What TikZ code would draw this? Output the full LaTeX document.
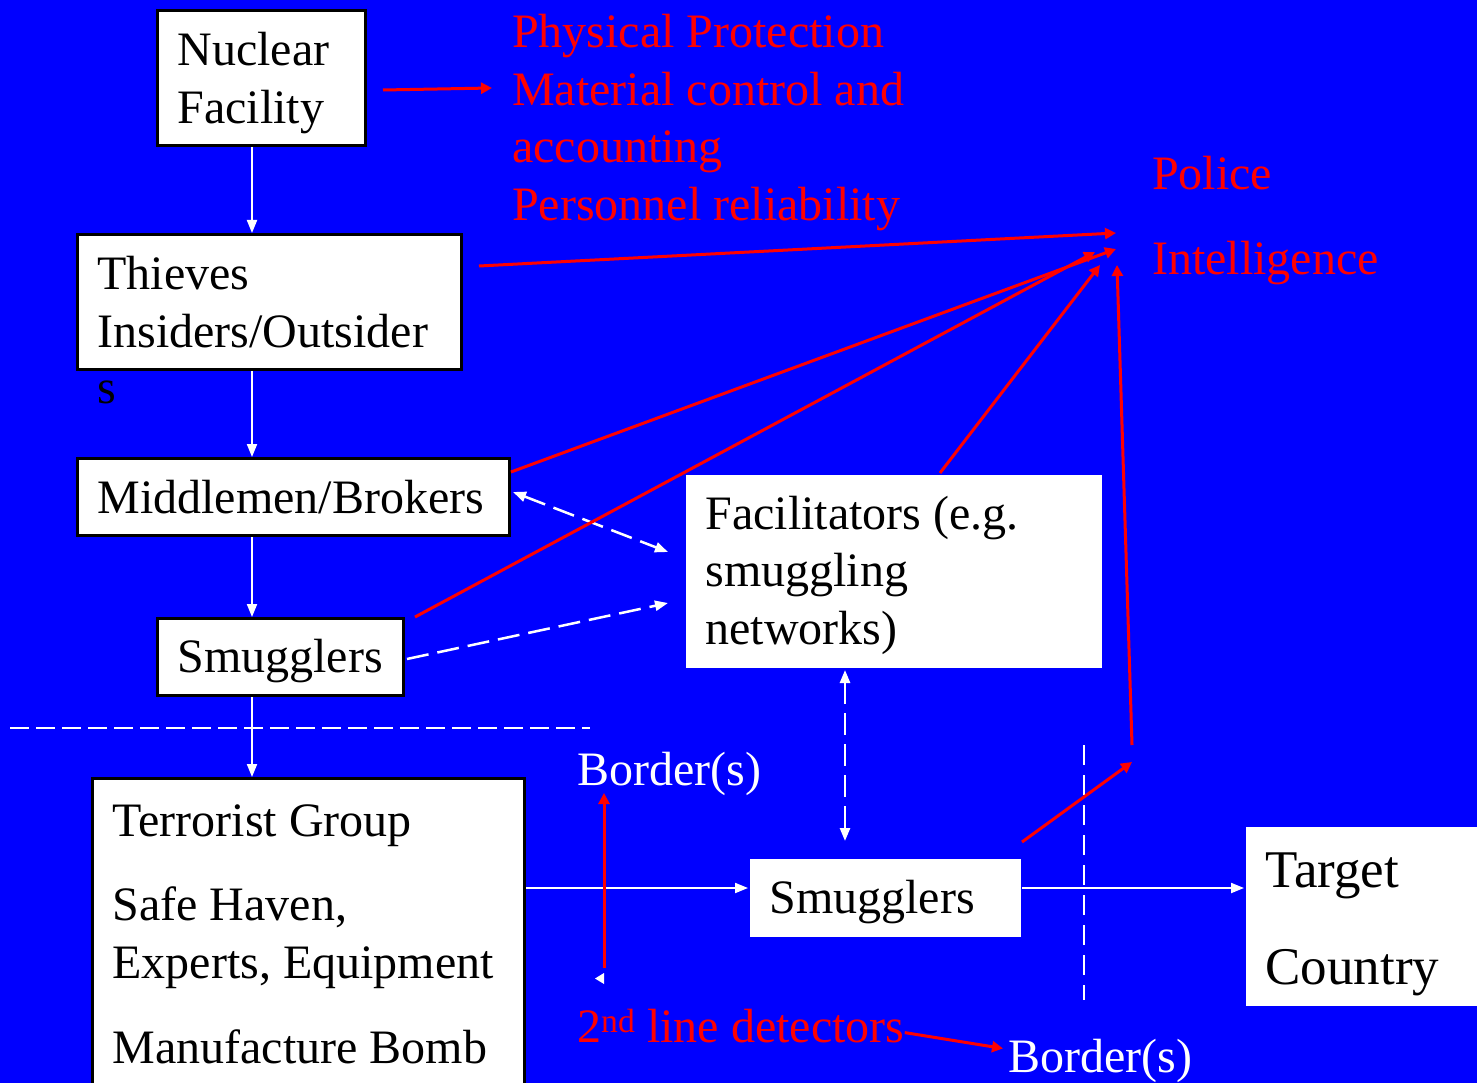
\documentclass[tikz,border=0pt]{standalone}
\usepackage{fontspec}
\setmainfont{Liberation Serif}
\usetikzlibrary{arrows.meta,calc}

\begin{document}
\begin{tikzpicture}[x=1pt,y=-1pt,
  every node/.style={font=\fontsize{48}{57.6}\selectfont},
  wtip/.tip={Triangle[length=13pt,width=10pt]},
  rtip/.tip={Triangle[length=11pt,width=11pt]},
  box/.style={draw=black,line width=3pt,fill=white,anchor=north west,inner xsep=20pt,inner ysep=0pt,align=flush left},
  plainbox/.style={box,draw=none},
  drop/.style={execute at begin node={\rule{0pt}{#1}}},
  lbl/.style={inner sep=0pt,anchor=base west},
  wline/.style={white,line width=2pt,-wtip},
  wdash/.style={white,line width=2.5pt,dash pattern=on 22pt off 9pt},
  rline/.style={red,line width=3pt,-rtip}]
\useasboundingbox (0,0) rectangle (1477,1083);
\fill[blue] (0,0) rectangle (1477,1083);

% boxes
\node[box,drop=43pt,text width=168pt,minimum height=135pt] (nf) at (156,9) {Nuclear\\Facility};
\node[box,text width=344pt,minimum height=135pt] (th) at (76,233) {Thieves\\Insiders/Outsider};
\node[lbl] (ths) at (97,403) {s};
\node[box,text width=392pt,minimum height=77pt] (mb) at (76,457) {Middlemen/Brokers};
\node[box,drop=41pt,text width=206pt,minimum height=77pt] (sm) at (156,617) {Smugglers};
\node[box,text width=392pt,minimum height=311pt] (tg) at (91,777) {Terrorist Group\\[27pt]Safe Haven,\\Experts, Equipment\\[27pt]Manufacture Bomb};
\node[plainbox,drop=42pt,text width=376pt,minimum height=193pt] (fac) at (684,473) {Facilitators (e.g.\\smuggling\\networks)};
\node[plainbox,drop=43pt,text width=231pt,minimum height=78pt] (sm2) at (748,857) {Smugglers};
\node[plainbox,drop=51pt,text width=230pt,minimum height=179pt,font=\fontsize{53}{63.6}\selectfont] (tc) at (1244,825) {Target\\[33pt]Country};

% labels
\node[lbl,red,align=left,anchor=north west] (pp) at (512,14) {Physical Protection\\Material control and\\accounting\\Personnel reliability};
\node[lbl,red] (pol) at (1152,190) {Police};
\node[lbl,red] (intel) at (1152,274) {Intelligence};
\node[lbl,white] (brd1) at (577,785) {Border(s)};
\node[lbl,white] (brd2) at (1008,1072) {Border(s)};
\node[lbl,red] (det) at (577,1042) {2\textsuperscript{nd} line detectors};

\coordinate (col) at (252,0);
\coordinate (row) at (0,888);
\coordinate (fcol) at (845,0);
\coordinate (fcor) at (940,0);
\coordinate (ppin) at (492,88);
\coordinate (p1) at (1116,233);
\coordinate (p2) at (1116,249);
\coordinate (p3) at (1095,252);
\coordinate (p4) at (1100,265);
\coordinate (p5) at (1117,265);
\coordinate (q5) at (1132,745);
\coordinate (p6) at (1132,762);
\coordinate (v1) at (604,968);
\coordinate (v2) at (604,793);

% chain
\draw[wline] (nf.south -| col) -- (th.north -| col);
\draw[wline] (th.south -| col) -- (mb.north -| col);
\draw[wline] (mb.south -| col) -- (sm.north -| col);
\draw[wline] (sm.south -| col) -- (tg.north -| col);
\draw[wline] (tg.east |- row) -- (sm2.west |- row);
\draw[wline] (sm2.east |- row) -- (tc.west |- row);

% facilitators
\draw[wdash,wtip-wtip] ($(mb.east)+(2,-5)$) -- ($(fac.west)+(-16,-19)$);
\draw[wdash,-wtip] ($(sm.east)+(2,2)$) -- ($(fac.west)+(-16,32)$);
\draw[wdash,wtip-wtip] ($(fac.south -| fcol)+(0,1)$) -- ($(sm2.north -| fcol)+(0,-16)$);

% borders
\draw[white,line width=2.5pt,dash pattern=on 19pt off 7pt] (10,728) -- (590,728);
\draw[white,line width=2.5pt,dash pattern=on 20pt off 10pt] (1084,745) -- (1084,1000);

% police and intelligence
\draw[rline] ($(nf.east)+(16,12)$) -- (ppin);
\draw[rline] ($(th.east)+(16,-36)$) -- (p1);
\draw[rline] ($(mb.north east)+(0,15)$) -- (p2);
\draw[rline] ($(sm.north east)+(10,0)$) -- (p3);
\draw[rline] (fac.north -| fcor) -- (p4);
\draw[rline] (q5) -- (p5);
\draw[rline] ($(sm2.north east)+(0,-15)$) -- (p6);

% detectors
\draw[rline] (v1) -- (v2);
\fill[white] (604,973) -- (595,978.5) -- (604,984) -- cycle;
\draw[rline] ($(det.east)+(0,7)$) -- ($(brd2.west)+(-5,-12)$);

\end{tikzpicture}
\end{document}
